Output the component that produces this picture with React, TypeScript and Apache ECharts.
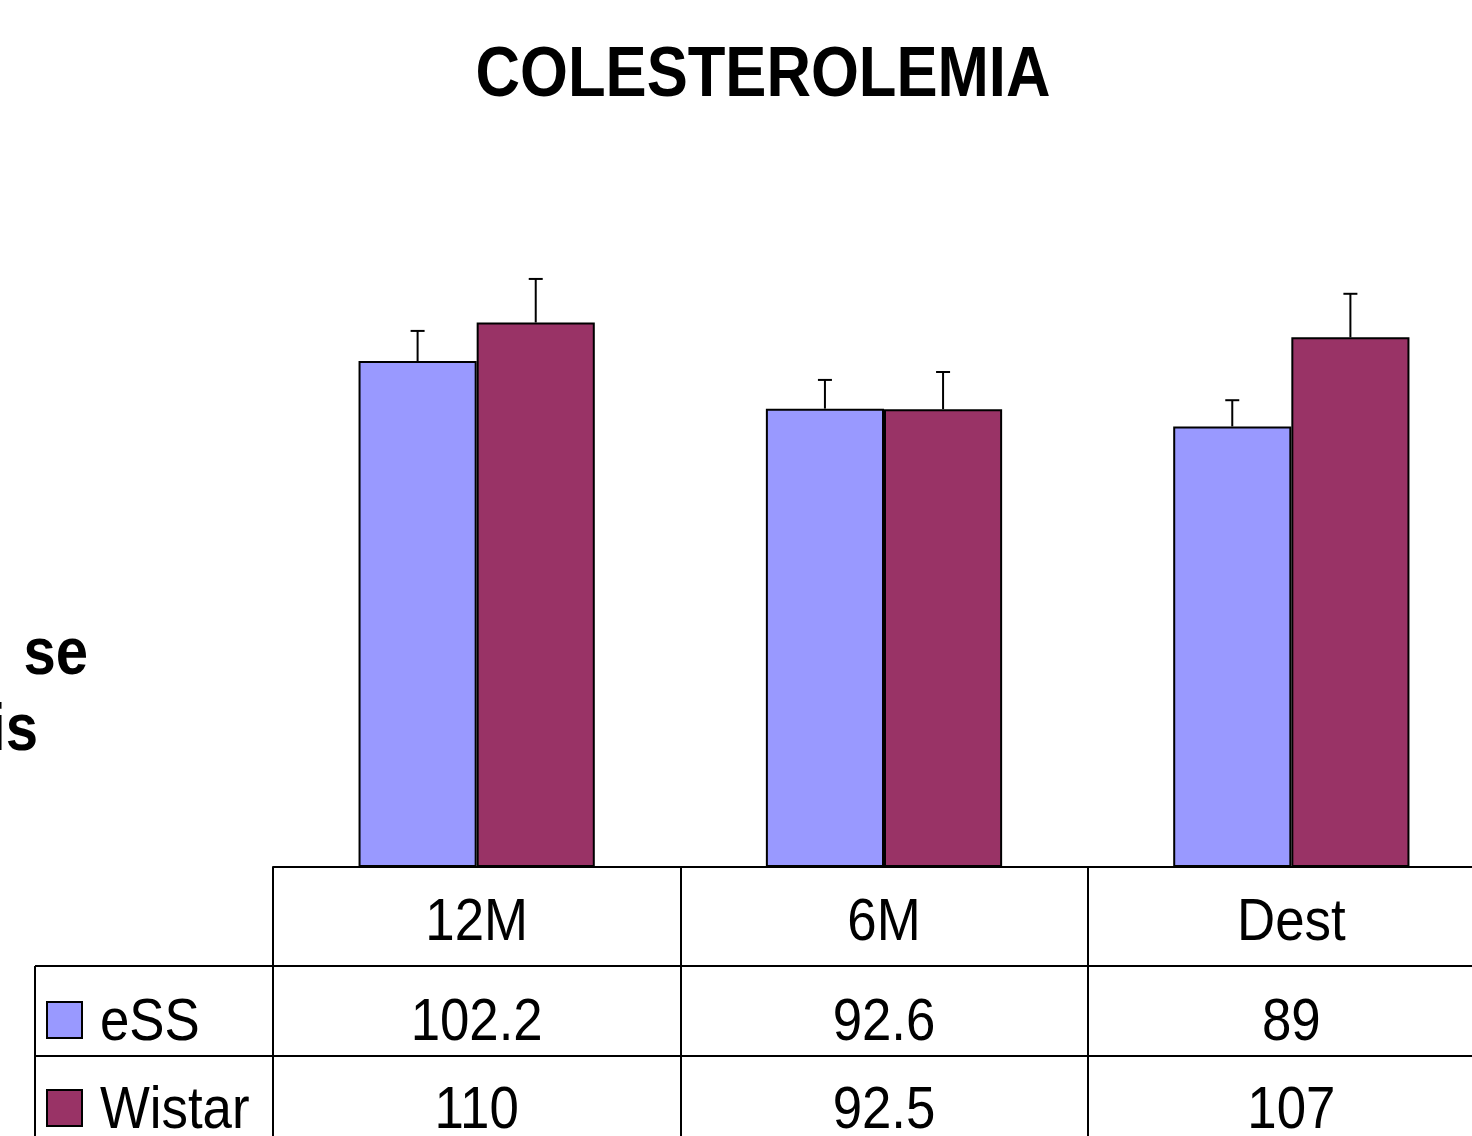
import React, { useEffect, useRef } from "react";
import * as echarts from "echarts";

const title = "COLESTEROLEMIA";
const categories = ["12M", "6M", "Dest"];
const seriesNames = ["eSS", "Wistar"];
const essValues = [102.2, 92.6, 89];
const wistarValues = [110, 92.5, 107];
const essErrors = [6.1, 5.8, 5.3];
const wistarErrors = [8.8, 7.5, 8.8];
const yLabelLines = ["se", "is"];

const COLORS = ["#9999FF", "#993366"];
const BAR_FRAC = 0.29;
const FONT = "Liberation Sans, Arial, Helvetica, sans-serif";
const SX = 0.88;

export default function App() {
  const ref = useRef<HTMLDivElement>(null);

  useEffect(() => {
    if (!ref.current) return;
    const chart = echarts.init(ref.current, null, { renderer: "svg" });

    const errSeries = (values: number[], errs: number[], side: number, name: string) => ({
      type: "custom",
      name: name + "-err",
      z: 5,
      data: values.map((v, i) => [i, v, errs[i]]),
      encode: { x: 0, y: 1 },
      renderItem: (params: any, api: any) => {
        const i = api.value(0);
        const v = api.value(1);
        const e = api.value(2);
        const bw = api.size([1, 0])[0];
        const off = (side * bw * BAR_FRAC) / 2;
        const base = api.coord([i, v]);
        const top = api.coord([i, v + e]);
        const x = base[0] + off;
        return {
          type: "group",
          children: [
            { type: "line", shape: { x1: x, y1: base[1], x2: x, y2: top[1] }, style: { stroke: "#000", lineWidth: 2 } },
            { type: "line", shape: { x1: x - 7, y1: top[1], x2: x + 7, y2: top[1] }, style: { stroke: "#000", lineWidth: 2 } },
          ],
        };
      },
    });

    chart.setOption({
      animation: false,
      backgroundColor: "#fff",
      grid: { left: 273, width: 1222, top: 273, height: 594, outerBoundsMode: "none" },
      xAxis: {
        type: "category",
        data: categories,
        boundaryGap: true,
        axisLine: { show: true, lineStyle: { color: "#000", width: 2 } },
        axisTick: { show: true, interval: 0, length: 275, lineStyle: { color: "#000", width: 2 } },
        axisLabel: { show: false },
      },
      yAxis: { type: "value", min: 0, max: 120, show: false, splitLine: { show: false } },
      series: [
        {
          type: "bar",
          name: seriesNames[0],
          data: essValues,
          barWidth: BAR_FRAC * 100 + "%",
          barGap: "0%",
          itemStyle: { color: COLORS[0], borderColor: "#000", borderWidth: 2 },
        },
        {
          type: "bar",
          name: seriesNames[1],
          data: wistarValues,
          barWidth: BAR_FRAC * 100 + "%",
          barGap: "0%",
          itemStyle: { color: COLORS[1], borderColor: "#000", borderWidth: 2 },
        },
        errSeries(essValues, essErrors, -1, seriesNames[0]),
        errSeries(wistarValues, wistarErrors, 1, seriesNames[1]),
      ],
    });

    const txt = (text: string, x: number, y: number, size: number, align: string, bold = false) => ({
      type: "text",
      x,
      y,
      scaleX: SX,
      z: 10,
      style: {
        text,
        x: 0,
        y: 0,
        fill: "#000",
        font: `${bold ? "bold " : ""}${size}px ${FONT}`,
        textAlign: align,
        textVerticalAlign: "middle",
        align,
        verticalAlign: "middle",
      },
    });

    const rowY = [919, 1019, 1107];
    const elements: any[] = [];
    elements.push(txt(title, 763, 72, 70, "center", true));
    elements.push(txt(yLabelLines[0], 88, 651, 66, "right", true));
    elements.push(txt(yLabelLines[1], 38, 727, 66, "right", true));

    categories.forEach((c, i) => {
      const cx = chart.convertToPixel({ xAxisIndex: 0 }, c) as number;
      elements.push(txt(c, cx, rowY[0], 60, "center"));
      elements.push(txt(String(essValues[i]), cx, rowY[1], 60, "center"));
      elements.push(txt(String(wistarValues[i]), cx, rowY[2], 60, "center"));
    });

    // table grid lines
    const ls = { stroke: "#000", lineWidth: 2 };
    elements.push({ type: "line", shape: { x1: 35, y1: 966, x2: 1520, y2: 966 }, style: ls });
    elements.push({ type: "line", shape: { x1: 35, y1: 1056, x2: 1520, y2: 1056 }, style: ls });
    elements.push({ type: "line", shape: { x1: 35, y1: 966, x2: 35, y2: 1140 }, style: ls });

    // legend keys
    seriesNames.forEach((n, i) => {
      const y = i === 0 ? 1002 : 1090;
      elements.push({
        type: "rect",
        shape: { x: 47, y, width: 35, height: 36 },
        style: { fill: COLORS[i], stroke: "#000", lineWidth: 2 },
      });
      elements.push(txt(n, 100, rowY[i + 1], 60, "left"));
    });

    chart.setOption({ graphic: elements });

    return () => chart.dispose();
  }, []);

  return (
    <div
      style={{
        position: "fixed",
        left: 0,
        top: 0,
        width: 1472,
        height: 1136,
        overflow: "hidden",
        background: "#fff",
      }}
    >
      <div ref={ref} style={{ width: 1520, height: 1136 }} />
    </div>
  );
}
